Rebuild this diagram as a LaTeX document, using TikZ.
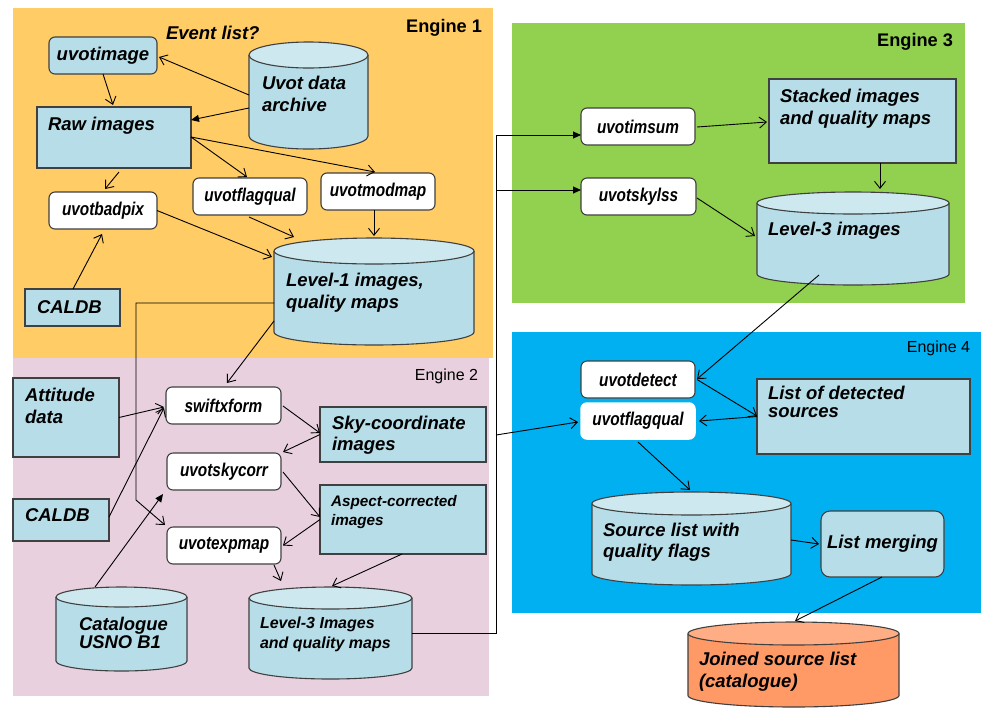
\documentclass[tikz,border=0pt]{standalone}
\usepackage{fontspec}
\setmainfont{Liberation Sans}
\newfontfamily\condfont[FakeStretch=0.83]{Liberation Sans}
\usetikzlibrary{arrows.meta,calc}
\definecolor{eorange}{HTML}{FFCC66}
\definecolor{epink}{HTML}{E8D0DE}
\definecolor{egreen}{HTML}{92D050}
\definecolor{eblue}{HTML}{00B0F0}
\definecolor{tealA}{HTML}{B7DEE8}
\definecolor{tealB}{HTML}{CDE8EE}
\definecolor{orgA}{HTML}{FF9966}
\definecolor{orgB}{HTML}{FFAD85}
\definecolor{edge}{HTML}{404040}
\newcommand{\cylshape}[7]{%
  \pgfmathsetmacro\cxm{(#1+#3)/2}%
  \pgfmathsetmacro\crx{(#3-#1)/2}%
  \pgfmathsetmacro\cyt{#2+#5}%
  \pgfmathsetmacro\cyb{#4-#5}%
  \fill[#6] (#1,\cyt) -- (#1,\cyb) arc[start angle=180,end angle=360,x radius=\crx pt,y radius=#5 pt] -- (#3,\cyt) -- cycle;
  \draw[draw=edge,line width=1.1pt] (#1,\cyt) -- (#1,\cyb) arc[start angle=180,end angle=360,x radius=\crx pt,y radius=#5 pt] -- (#3,\cyt);
  \filldraw[fill=#7,draw=edge,line width=1.1pt] (\cxm,\cyt) ellipse[x radius=\crx pt,y radius=#5 pt];
}
\tikzset{
  box/.style={draw=edge, line width=1.1pt, anchor=north west, inner sep=0pt, outer sep=0pt},
  tealbox/.style={box, fill=tealA},
  prog/.style={box, fill=white, rounded corners=6pt, font=\condfont\bfseries\itshape\fontsize{18.5}{22}\selectfont},
  cylnode/.style={anchor=north west, inner sep=0pt, outer sep=0pt},
  lbl/.style={inner sep=0pt, outer sep=0pt, anchor=north west, align=left, font=\bfseries\itshape\fontsize{18.5}{22}\selectfont},
  conn/.style={draw=black, line width=0.9pt},
  arr/.style={conn, -{Straight Barb[length=7pt,width=11pt]}},
  arrf/.style={conn, -{Triangle[length=8pt,width=7pt]}},
  englbl/.style={inner sep=0pt, outer sep=0pt, anchor=north east}
}
\begin{document}
\begin{tikzpicture}[x=1pt,y=-1pt]
\useasboundingbox (0,0) rectangle (981,710);
\fill[white] (0,0) rectangle (981,710);
% engine backgrounds
\fill[eorange] (13,8) rectangle (493,358);
\fill[epink] (13,358) rectangle (489,696);
\fill[egreen] (512,23) rectangle (965,303);
\fill[eblue] (512,332) rectangle (981,613);
\node[englbl, font=\bfseries\fontsize{18.2}{22}\selectfont] (eng1) at (482,19) {Engine 1};
\node[englbl, font=\fontsize{16}{20}\selectfont] (eng2) at (478,369) {Engine 2};
\node[englbl, font=\bfseries\fontsize{18.2}{22}\selectfont] (eng3) at (953,33) {Engine 3};
\node[englbl, font=\fontsize{16}{20}\selectfont] (eng4) at (970,341) {Engine 4};

% ---- Engine 1
\node[lbl] (evlist) at (166,26) {Event list?};
\node[tealbox, rounded corners=6pt, minimum width=108pt, minimum height=37pt, font=\bfseries\itshape\fontsize{18.5}{22}\selectfont] (uvotimage) at (49,37) {uvotimage};
\cylshape{249}{42}{368}{149}{13}{tealA}{tealB}
\node[cylnode, minimum width=119pt, minimum height=107pt] (arch) at (249,42) {};
\node[lbl] (archt) at (262,76) {Uvot data\\archive};
\node[tealbox, minimum width=154pt, minimum height=61pt] (raw) at (37,107) {};
\node[lbl] (rawt) at (48,117) {Raw images};
\node[prog, minimum width=108pt, minimum height=37pt] (badpix) at (49,192) {uvotbadpix};
\node[prog, minimum width=114pt, minimum height=37pt] (flagqa) at (193,178) {uvotflagqual};
\node[prog, minimum width=114pt, minimum height=37pt] (modmap) at (321,173) {uvotmodmap};
\node[tealbox, minimum width=95pt, minimum height=37pt] (caldba) at (25,289) {};
\node[lbl, anchor=west] (caldbat) at ($(caldba.west)+(12,0)$) {CALDB};
\cylshape{274}{238}{474}{345}{13}{tealA}{tealB}
\node[cylnode, minimum width=200pt, minimum height=107pt] (lvla) at (274,238) {};
\node[lbl] (lvlat) at (286,273) {Level-1 images,\\quality maps};

% ---- Engine 2
\node[tealbox, minimum width=106pt, minimum height=79pt] (att) at (13,378) {};
\node[lbl] (attt) at (25,388) {Attitude\\data};
\node[tealbox, minimum width=96pt, minimum height=42pt] (caldbb) at (13,499) {};
\node[lbl] (caldbbt) at (25,509) {CALDB};
\node[prog, minimum width=115pt, minimum height=37pt] (swift) at (166,387) {swiftxform};
\node[prog, minimum width=114pt, minimum height=37pt] (skycorr) at (167,453) {uvotskycorr};
\node[prog, minimum width=114pt, minimum height=37pt] (expmap) at (167,527) {uvotexpmap};
\node[tealbox, minimum width=166pt, minimum height=55pt] (skyimg) at (320,407) {};
\node[lbl, font=\bfseries\itshape\fontsize{18.5}{21}\selectfont] (skyimgt) at (332,416) {Sky-coordinate\\images};
\node[tealbox, minimum width=166pt, minimum height=69pt] (aspect) at (320,485) {};
\node[lbl, font=\bfseries\itshape\fontsize{15.3}{19}\selectfont] (aspectt) at (331,495) {Aspect-corrected\\images};
\cylshape{56}{587}{187}{671}{10}{tealA}{tealB}
\node[cylnode, minimum width=131pt, minimum height=84pt] (usno) at (56,587) {};
\node[lbl, font=\bfseries\itshape\fontsize{18.4}{18}\selectfont] (usnot) at (79,617) {Catalogue\\USNO B1};
\cylshape{249}{587}{412}{679}{11}{tealA}{tealB}
\node[cylnode, minimum width=163pt, minimum height=92pt] (lvlb) at (249,587) {};
\node[lbl, font=\bfseries\itshape\fontsize{16}{20}\selectfont] (lvlbt) at (260,617) {Level-3 Images\\and quality maps};

% ---- Engine 3
\node[prog, minimum width=114pt, minimum height=37pt] (imsum) at (581,108) {uvotimsum};
\node[prog, minimum width=115pt, minimum height=37pt] (skylss) at (581,178) {uvotskylss};
\node[tealbox, minimum width=187pt, minimum height=84pt] (stacked) at (769,79) {};
\node[lbl] (stackedt) at (780,89) {Stacked images\\and quality maps};
\cylshape{757}{192}{949}{285}{11}{tealA}{tealB}
\node[cylnode, minimum width=192pt, minimum height=93pt] (lvlc) at (757,192) {};
\node[lbl] (lvlct) at (768,222) {Level-3 images};

% ---- Engine 4
\node[prog, minimum width=114pt, minimum height=37pt] (detect) at (581,361) {uvotdetect};
\node[prog, draw=white, line width=1.5pt, minimum width=114pt, minimum height=36pt] (flagqb) at (581,403) {uvotflagqual};
\node[tealbox, minimum width=213pt, minimum height=75pt] (listdet) at (757,379) {};
\node[lbl, font=\bfseries\itshape\fontsize{18.5}{18.5}\selectfont] (listdett) at (768,386) {List of detected\\sources};
\cylshape{592}{492}{791}{585}{11.5}{tealA}{tealB}
\node[cylnode, minimum width=199pt, minimum height=93pt] (srclist) at (592,492) {};
\node[lbl, font=\bfseries\itshape\fontsize{18.5}{21}\selectfont] (srclistt) at (603,523) {Source list with\\quality flags};
\node[tealbox, rounded corners=9pt, minimum width=123pt, minimum height=66pt, font=\bfseries\itshape\fontsize{18.5}{22}\selectfont] (merge) at (821,511) {List merging};
\cylshape{688}{622}{899}{707}{11.5}{orgA}{orgB}
\node[cylnode, minimum width=211pt, minimum height=85pt] (joined) at (688,622) {};
\node[lbl] (joinedt) at (699,652) {Joined source list\\(catalogue)};

% ---- connectors Engine 1
\draw[arr] ($(arch.north west)+(0,53)$) -- ($(uvotimage.north east)+(2,20)$);
\draw[arrf] ($(arch.north west)+(0,66)$) -- ($(raw.north east)+(0,13)$);
\draw[arr] (uvotimage.south) -- ($(raw.north west)+(76,-2)$);
\draw[arr] ($(raw.north east)+(0,30)$) -- ($(flagqa.north)+(-3,-1)$);
\draw[arr] ($(raw.north east)+(0,30)$) -- ($(modmap.north west)+(54,-1)$);
\draw[arr] ($(raw.south west)+(82,4)$) -- ($(badpix.north)+(2,-3)$);
\draw[arr] (badpix.east) -- ($(lvla.north west)+(-2,19)$);
\draw[arr] ($(flagqa.south)+(-1,2)$) -- ($(lvla.north west)+(20,-1)$);
\draw[arr] ($(modmap.south)+(-4,0)$) -- ($(lvla.north west)+(100,-2)$);
\draw[arr] ($(caldba.north)+(0.5,0)$) -- ($(badpix.south)+(-1,5)$);
\draw[arr] ($(lvla.north west)+(0,65)$) -- ++(-138,0) -- ++(0,197) -- ($(expmap.north west)+(-2,-2)$);
\draw[arr] ($(lvla.north west)+(0,83)$) -- ($(swift.north west)+(61,-4)$);

% ---- connectors Engine 2
\draw[arr] (att.east) -- ($(swift.west)+(-2,1.5)$);
\draw[arr] ($(caldbb.north east)+(0,18)$) -- ($(swift.west)+(-2,2.5)$);
\draw[arrf] ($(usno.north west)+(39,0)$) -- ($(skycorr.south west)+(-4,4)$);
\draw[arr] ($(swift.east)+(2,0.5)$) -- ($(skyimg.west)+(0,-1.5)$);
\draw[arr] (skyimg.west) -- ($(skycorr.north east)+(2,-1)$);
\draw[arr] ($(skycorr.east)+(2,0.5)$) -- ($(aspect.west)+(0,-2.5)$);
\draw[arr] (aspect.west) -- ($(expmap.east)+(2,0)$);
\draw[arr] ($(expmap.south west)+(107,1)$) -- ($(lvlb.north west)+(32,-6)$);
\draw[arr] ($(aspect.south)+(-1,0)$) -- ($(lvlb.north west)+(83,-1)$);

% ---- bus to Engines 3 and 4
\coordinate (busbot) at (496,633);
\coordinate (bustop) at (496,135);
\coordinate (busmid) at (496,190);
\coordinate (busq) at (496,435);
\draw[conn] ($(lvlb.north east)+(0,46)$) -- (busbot) -- (bustop);
\draw[arrf] (bustop) -- (imsum.west |- bustop);
\draw[arrf] (busmid) -- (skylss.west |- busmid);
\draw[arr] (busq) -- ($(flagqb.west)+(-3,1)$);

% ---- connectors Engine 3
\draw[arr] ($(imsum.east)+(2,0.5)$) -- ($(stacked.west)+(-2,1)$);
\draw[arr] ($(stacked.south)+(17.5,0)$) -- ($(lvlc.north west)+(123,-3)$);
\draw[arr] ($(skylss.east)+(1,1.5)$) -- ($(lvlc.north west)+(-2,44)$);
\draw[arr] ($(lvlc.south west)+(62,-10)$) -- ($(detect.east)+(2,-0.5)$);

% ---- connectors Engine 4
\draw[arr] ($(detect.east)+(2,0)$) -- ($(listdet.west)+(0,-0.5)$);
\draw[arr] (listdet.west) -- ($(flagqb.east)+(4,0)$);
\draw[arr] ($(flagqb.south)+(0,3)$) -- ($(srclist.north west)+(98,-2)$);
\draw[arr] ($(srclist.north east)+(0,48)$) -- ($(merge.west)+(-2,0)$);
\draw[arr] ($(merge.south)+(-0.5,0)$) -- ($(joined.north west)+(107,-1)$);
\end{tikzpicture}
\end{document}
